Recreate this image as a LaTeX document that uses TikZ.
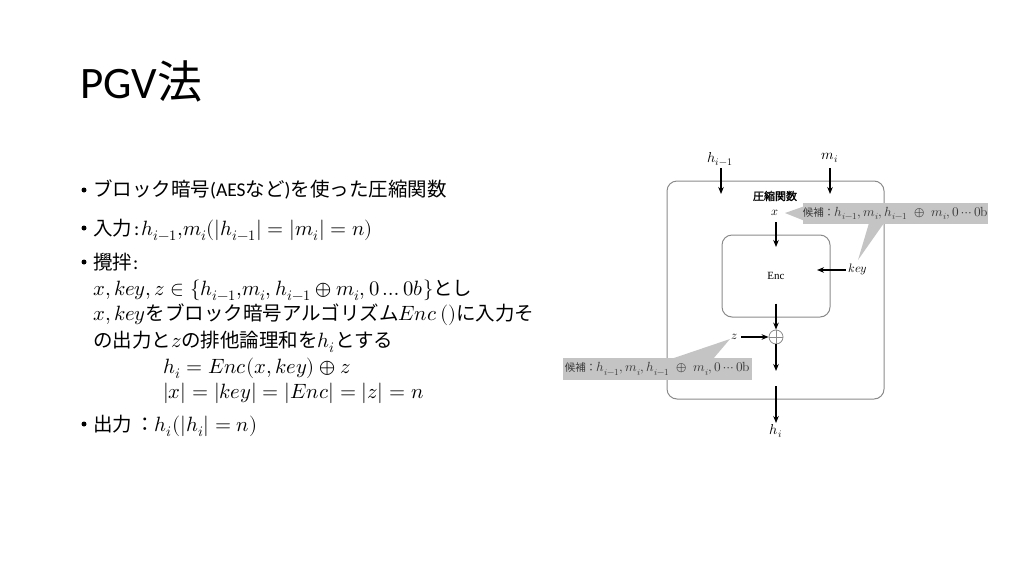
\documentclass[tikz,border=0pt]{standalone}
\usepackage{fontspec}
\usepackage{unicode-math}
\setmainfont{Carlito}
\setmathfont{Latin Modern Math}[Scale=1.06]
\newfontfamily\jp{Noto Sans CJK JP}
\newfontfamily\jpb[FakeBold=1.5]{Noto Sans CJK JP}
\newfontfamily\serif{Liberation Serif}
\usetikzlibrary{arrows.meta}
\definecolor{boxline}{HTML}{8A8A8A}
\definecolor{cgrey}{HTML}{C4C4C4}
\definecolor{ctext}{HTML}{3A3A3A}
\begin{document}
\begin{tikzpicture}[x=1pt,y=-1pt,
  txt/.style={anchor=base west,inner sep=0pt,font=\fontsize{19.5}{23}\selectfont},
  bul/.style={circle,fill=black,inner sep=0pt,minimum size=5pt},
  frame/.style={draw=boxline,line width=1pt,rounded corners=10pt,inner sep=0pt},
  lab/.style={inner sep=1pt,font=\fontsize{11.5}{13}\selectfont},
  biglab/.style={inner sep=1pt,font=\fontsize{13.5}{15}\selectfont},
  arr/.style={line width=1.3pt,-{Stealth[length=7pt,width=5.5pt]}},
  callout/.style={fill=cgrey,inner sep=0pt,text=ctext,font=\fontsize{12.5}{15}\selectfont},
]
\useasboundingbox (0,0) rectangle (1024,576);
% title
\node[anchor=base west,inner sep=0pt,font=\fontsize{45}{52}\selectfont] (title) at (80,98) {PGV{\jp 法}};
% bullets
\node[bul] (b1) at (84,190) {};
\node[bul] (b2) at (84,228) {};
\node[bul] (b3) at (84,262) {};
\node[bul] (b4) at (84,424) {};
\node[txt] (l1) at (93,196) {{\jp ブロック暗号}(AES{\jp など}){\jp を使った圧縮関数}};
\node[txt] (l2) at (93,235) {{\jp 入力}\hspace{2pt}:\hspace{2pt}$h_{i-1}{,}m_i(|h_{i-1}|=|m_i|=n)$};
\node[txt] (l3) at (93,269) {{\jp 攪拌}\hspace{1pt}:};
\node[txt] (l4) at (93,295) {$x, key, z \in \{h_{i-1}{,}m_i, h_{i-1}\oplus m_i, 0\ldots 0b\}${\jp とし}};
\node[txt] (l5) at (93,320) {$x, key${\jp をブロック暗号アルゴリズム}$Enc\,()${\jp に入力そ}};
\node[txt] (l6) at (93,347) {{\jp の出力と}$z${\jp の排他論理和を}$h_i${\jp とする}};
\node[txt] (l7) at (163,373) {$h_i = Enc(x, key) \oplus z$};
\node[txt] (l8) at (163,398) {$|x| = |key| = |Enc| = |z| = n$};
\node[txt] (l9) at (93,431) {{\jp 出力}\,{\jp ：}$h_i(|h_i| = n)$};
% diagram
\node[frame,minimum width=217pt,minimum height=218pt] (outer) at (775.5,290) {};
\node[frame,minimum width=108pt,minimum height=82pt,font=\serif\fontsize{11}{13}\selectfont] (enc) at (776,276) {Enc};
\node[font=\jpb\fontsize{11}{13}\selectfont,inner sep=0pt] (title2) at (775,196) {圧縮関数};
\node[biglab] (hprev) at (720,159) {$h_{i-1}$};
\node[biglab] (mi) at (830,158) {$m_i$};
\coordinate (hprevend) at (721,194);
\coordinate (miend) at (830,194);
\draw[arr] (721,168) -- (hprevend);
\draw[arr] (830,168) -- (miend);
\node[lab] (xl) at (775,213) {$x$};
\coordinate (xend) at (776,247);
\draw[arr] (776,222) -- (xend);
\node[lab] (keyl) at (858,270) {$key$};
\coordinate (keyend) at (817,270);
\draw[arr] (keyl.west) ++(-2,0) -- (keyend);
\node[circle,draw=boxline,line width=0.8pt,minimum size=14pt,inner sep=0pt] (xor) at (776,337) {};
\draw[boxline,line width=0.8pt] (xor.north) -- (xor.south) (xor.west) -- (xor.east);
\draw[arr] (enc.south) ++(0,-14) -- (xor.north);
\node[lab] (zl) at (735,337) {$z$};
\draw[arr] (zl.east) ++(2,0) -- (xor.west);
\coordinate (xorend) at (776,371);
\draw[arr] (xor.south) -- (xorend);
\coordinate (outstart) at (776,386);
\node[biglab] (hi) at (776,431) {$h_i$};
\draw[arr] (outstart) -- (hi.north);
% callouts
\fill[cgrey] (785,213) -- (805,206) -- (805,221) -- cycle;
\fill[cgrey] (869,223) -- (884,223) -- (858,260) -- cycle;
\node[callout,minimum width=185pt,minimum height=21pt] (c1) at (895.5,213.5) {{\jp\fontsize{10.5}{12}\selectfont 候補：}$h_{i-1}, m_i, h_{i-1}\;\oplus\; m_i, 0\cdots 0\symup{b}$};
\fill[cgrey] (730,339) -- (671,359) -- (713,359) -- cycle;
\node[callout,minimum width=189pt,minimum height=22pt] (c2) at (657.5,369) {{\jp\fontsize{10.5}{12}\selectfont 候補：}$h_{i-1}, m_i, h_{i-1}\;\oplus\; m_i, 0\cdots 0\symup{b}$};
\end{tikzpicture}
\end{document}
